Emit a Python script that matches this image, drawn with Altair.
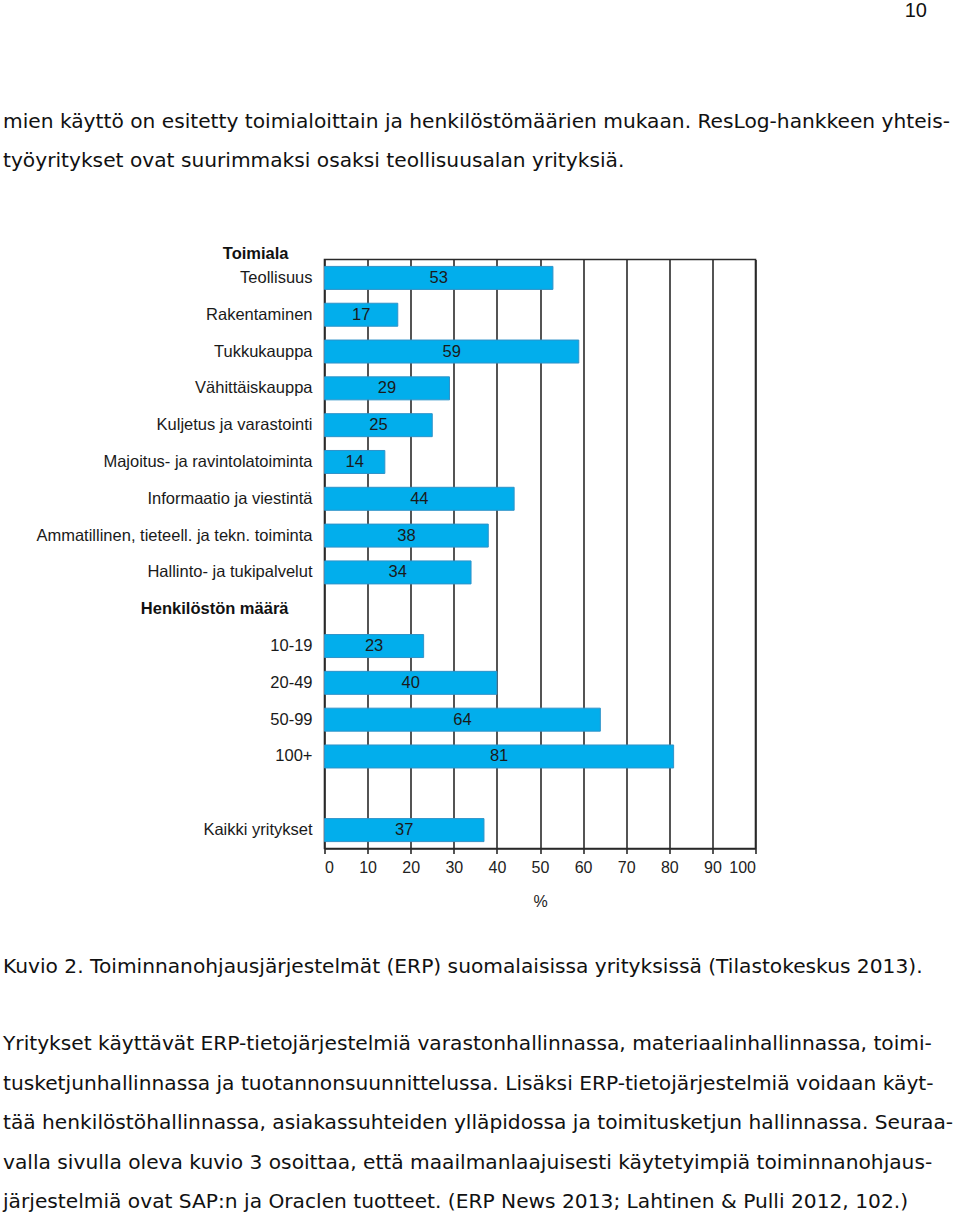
import altair as alt
import pandas as pd

# ---------------- data ----------------
page_number = "10"
intro_lines = [
    "mien käyttö on esitetty toimialoittain ja henkilöstömäärien mukaan. ResLog-hankkeen yhteis-",
    "työyritykset ovat suurimmaksi osaksi teollisuusalan yrityksiä.",
]
caption = "Kuvio 2. Toiminnanohjausjärjestelmät (ERP) suomalaisissa yrityksissä (Tilastokeskus 2013)."
body_lines = [
    "Yritykset käyttävät ERP-tietojärjestelmiä varastonhallinnassa, materiaalinhallinnassa, toimi-",
    "tusketjunhallinnassa ja tuotannonsuunnittelussa. Lisäksi ERP-tietojärjestelmiä voidaan käyt-",
    "tää henkilöstöhallinnassa, asiakassuhteiden ylläpidossa ja toimitusketjun hallinnassa. Seuraa-",
    "valla sivulla oleva kuvio 3 osoittaa, että maailmanlaajuisesti käytetyimpiä toiminnanohjaus-",
    "järjestelmiä ovat SAP:n ja Oraclen tuotteet. (ERP News 2013; Lahtinen & Pulli 2012, 102.)",
]

industry_header = "Toimiala"
industries = [
    "Teollisuus",
    "Rakentaminen",
    "Tukkukauppa",
    "Vähittäiskauppa",
    "Kuljetus ja varastointi",
    "Majoitus- ja ravintolatoiminta",
    "Informaatio ja viestintä",
    "Ammatillinen, tieteell. ja tekn. toiminta",
    "Hallinto- ja tukipalvelut",
]
industry_values = [53, 17, 59, 29, 25, 14, 44, 38, 34]

size_header = "Henkilöstön määrä"
size_groups = ["10-19", "20-49", "50-99", "100+"]
size_values = [23, 40, 64, 81]

total_label = "Kaikki yritykset"
total_value = 37

x_ticks = list(range(0, 101, 10))
x_title = "%"

# ---------------- tables ----------------
row_keys = industries + [size_header] + size_groups + ["__gap__"] + [total_label]

bars = pd.DataFrame({
    "key": industries + size_groups + [total_label],
    "value": industry_values + size_values + [total_value],
})
labels = pd.DataFrame({"key": industries + size_groups + [total_label],
                       "label": industries + size_groups + [total_label]})
headers = pd.DataFrame({"key": [size_header], "label": [size_header]})

LABEL_FONT = "Arial, Liberation Sans, sans-serif"
LABEL_SIZE = 16.5
PAGE_FONT = "DejaVu Sans"
PAGE_SIZE = 20.2
TOP = 259.5
LEFT = 324.5

yscale = alt.Scale(domain=row_keys, paddingInner=0, paddingOuter=0)
xscale = alt.Scale(domain=[0, 100], nice=False)

bar_layer = alt.Chart(bars).mark_bar(
    size=23, color="#02AEEC", stroke="#2F93C9", strokeWidth=1
).encode(
    y=alt.Y("key:N", scale=yscale, axis=None, sort=row_keys),
    x=alt.X(
        "value:Q",
        scale=xscale,
        axis=alt.Axis(
            values=x_ticks,
            title=x_title,
            grid=True,
            gridColor="#2a2a2a",
            gridWidth=1.6,
            gridOpacity=1,
            domainColor="#2a2a2a",
            domainWidth=1.6,
            tickColor="#2a2a2a",
            tickWidth=1.6,
            tickSize=5,
            labelFont=LABEL_FONT,
            labelFontSize=16,
            labelColor="#222222",
            labelPadding=6,
            titleFont=LABEL_FONT,
            titleFontSize=16,
            titleFontWeight="normal",
            titleColor="#222222",
            titlePadding=18,
        ),
    ),
)

value_layer = alt.Chart(bars).transform_calculate(mid="datum.value / 2").mark_text(
    font=LABEL_FONT, fontSize=LABEL_SIZE, color="#1a1a1a", baseline="middle", align="center"
).encode(
    y=alt.Y("key:N", scale=yscale, axis=None, sort=row_keys),
    x=alt.X("mid:Q", scale=xscale),
    text=alt.Text("value:Q"),
)

label_layer = alt.Chart(labels).mark_text(
    font=LABEL_FONT, fontSize=LABEL_SIZE, color="#1a1a1a", align="right", baseline="middle"
).encode(
    y=alt.Y("key:N", scale=yscale, axis=None, sort=row_keys),
    x=alt.value(-12),
    text="label:N",
)

header_layer = alt.Chart(headers).mark_text(
    font=LABEL_FONT, fontSize=LABEL_SIZE, fontWeight="bold", color="#111111", align="right", baseline="middle"
).encode(
    y=alt.Y("key:N", scale=yscale, axis=None, sort=row_keys),
    x=alt.value(-36),
    text="label:N",
)

top_header = alt.Chart(pd.DataFrame({"t": [industry_header]})).mark_text(
    font=LABEL_FONT, fontSize=LABEL_SIZE, fontWeight="bold", color="#111111", align="right", baseline="middle"
).encode(x=alt.value(-36), y=alt.value(254 - TOP), text="t:N")

page_no = alt.Chart(pd.DataFrame({"t": [page_number]})).mark_text(
    font=LABEL_FONT, fontSize=20, color="#111111", align="right", baseline="alphabetic"
).encode(x=alt.value(927 - LEFT), y=alt.value(17 - TOP), text="t:N")

intro = alt.Chart(pd.DataFrame({"t": ["\n".join(intro_lines)]})).mark_text(
    font=PAGE_FONT, fontSize=PAGE_SIZE, color="#111111", align="left", baseline="alphabetic",
    lineBreak="\n", lineHeight=38.5,
).encode(x=alt.value(3 - LEFT), y=alt.value(128 - TOP), text="t:N")

cap = alt.Chart(pd.DataFrame({"t": [caption]})).mark_text(
    font=PAGE_FONT, fontSize=PAGE_SIZE, color="#111111", align="left", baseline="alphabetic",
).encode(x=alt.value(3 - LEFT), y=alt.value(973 - TOP), text="t:N")

body = alt.Chart(pd.DataFrame({"t": ["\n".join(body_lines)]})).mark_text(
    font=PAGE_FONT, fontSize=PAGE_SIZE, color="#111111", align="left", baseline="alphabetic",
    lineBreak="\n", lineHeight=39.5,
).encode(x=alt.value(3 - LEFT), y=alt.value(1050 - TOP), text="t:N")

chart = alt.layer(
    bar_layer, value_layer, label_layer, header_layer, top_header, page_no, intro, cap, body
).properties(
    width=431,
    height=589,
    autosize=alt.AutoSizeParams(type="none"),
    padding={"left": LEFT, "top": TOP, "right": 960 - LEFT - 431, "bottom": 1215 - TOP - 589},
    background="white",
).configure_view(
    stroke="#2a2a2a", strokeWidth=1.6
)

chart.save("out.html", embed_options={"renderer": "svg", "actions": False})
